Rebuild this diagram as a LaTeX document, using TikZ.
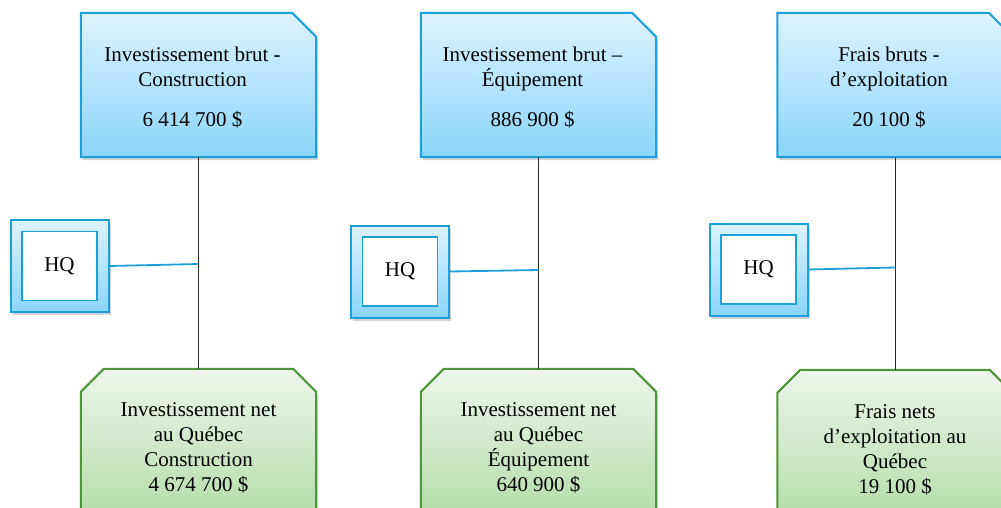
\documentclass[tikz,border=0pt]{standalone}
\usepackage{fontspec}
\setmainfont{Liberation Serif}
\usetikzlibrary{shadows}
\definecolor{bluetop}{RGB}{222,243,255}
\definecolor{bluebot}{RGB}{138,213,250}
\definecolor{blueline}{RGB}{27,160,220}
\definecolor{greentop}{RGB}{237,246,235}
\definecolor{greenbot}{RGB}{170,218,158}
\definecolor{greenline}{RGB}{76,150,56}
\tikzset{
  boxshadow/.style={drop shadow={opacity=0.35,shadow xshift=2pt,shadow yshift=-3pt}},
  topframe/.style={rectangle, minimum width=235pt, minimum height=144pt, inner sep=0pt},
  botframe/.style={rectangle, minimum width=235pt, minimum height=170pt, inner sep=0pt},
  topfill/.style={draw=blueline, line width=2pt, top color=bluetop, bottom color=bluebot, boxshadow},
  botfill/.style={draw=greenline, line width=2pt, top color=greentop, bottom color=greenbot, boxshadow},
  hqouter/.style={rectangle, minimum width=98pt, minimum height=92pt, inner sep=0pt,
    draw=blueline, line width=2pt, top color=bluetop, bottom color=bluebot, boxshadow},
  hqinner/.style={rectangle, minimum width=75pt, minimum height=69pt, inner sep=0pt,
    draw=blueline, line width=1.8pt, fill=white, font=\fontsize{21pt}{25pt}\selectfont},
  txt/.style={align=center, inner sep=0pt, font=\fontsize{21pt}{25pt}\selectfont},
  stem/.style={draw=black!85, line width=1pt},
  hqlink/.style={draw=blueline, line width=1.8pt}
}
\begin{document}
\begin{tikzpicture}[x=1pt,y=-1pt]
\useasboundingbox (0,0) rectangle (1001,508);
\clip (0,0) rectangle (1001,508);
% frames (named)
\node[topframe] (t1) at (198.5,85) {};
\node[topframe] (t2) at (538.5,85) {};
\node[topframe] (t3) at (895,85) {};
\node[botframe] (b1) at (198.5,454) {};
\node[botframe] (b2) at (538.5,454) {};
\node[botframe] (b3) at (895,455) {};
% top shapes (north-east corner cut)
\foreach \n in {t1,t2,t3}{
  \path[topfill] (\n.south west) -- (\n.north west) -- ([xshift=-24pt]\n.north east)
    -- ([yshift=-24pt]\n.north east) -- (\n.south east) -- cycle;
}
% bottom shapes (both top corners cut)
\foreach \n in {b1,b2,b3}{
  \path[botfill] (\n.south west) -- ([yshift=-23pt]\n.north west) -- ([xshift=23pt]\n.north west)
    -- ([xshift=-23pt]\n.north east) -- ([yshift=-23pt]\n.north east) -- (\n.south east) -- cycle;
}
% texts
\node[txt] (t1t) at (192.5,88) {Investissement brut -\\Construction\\[15pt]6 414 700 \$};
\node[txt] (t2t) at (532.5,88) {Investissement brut –\\Équipement\\[15pt]886 900 \$};
\node[txt] (t3t) at (889,88) {Frais bruts -\\d’exploitation\\[15pt]20 100 \$};
\node[txt] (b1t) at (198.5,448) {Investissement net\\au Québec\\Construction\\4 674 700 \$};
\node[txt] (b2t) at (538.5,448) {Investissement net\\au Québec\\Équipement\\640 900 \$};
\node[txt] (b3t) at (895,450) {Frais nets\\d’exploitation au\\Québec\\19 100 \$};
% stems
\draw[stem] (t1.south) -- (b1.north);
\draw[stem] (t2.south) -- (b2.north);
\draw[stem] (t3.south) -- (b3.north);
% HQ boxes
\node[hqouter] (h1) at (59.5,266) {};
\node[hqinner] (h1i) at (h1.center) {HQ};
\node[hqouter] (h2) at (400,271.5) {};
\node[hqinner] (h2i) at (h2.center) {HQ};
\node[hqouter] (h3) at (758.5,269.5) {};
\node[hqinner] (h3i) at (h3.center) {HQ};
% junctions
\coordinate (j1) at (198.5,264);
\coordinate (j2) at (538.5,270);
\coordinate (j3) at (895,267.5);
\draw[hqlink] (h1.east) -- (j1);
\draw[hqlink] (h2.east) -- (j2);
\draw[hqlink] (h3.east) -- (j3);
\end{tikzpicture}
\end{document}
